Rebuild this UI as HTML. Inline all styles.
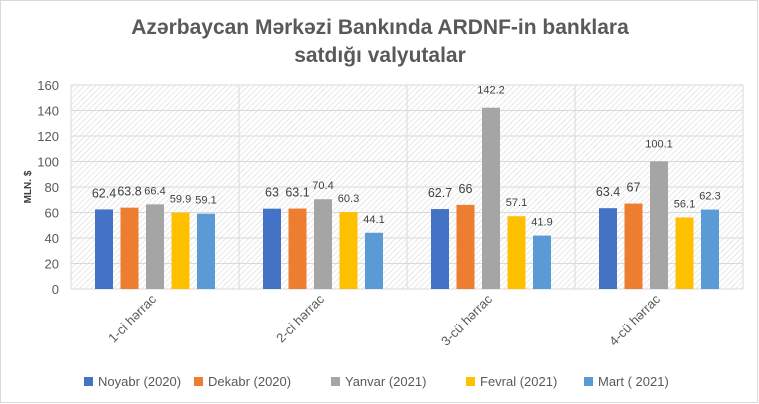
<!DOCTYPE html>
<html><head><meta charset="utf-8"><style>
body{margin:0;background:#fff;}
svg{display:block;font-family:"Liberation Sans",sans-serif;}
</style></head><body>
<svg width="759" height="404" viewBox="0 0 759 404">
<defs>
<pattern id="hatch" width="4" height="4" patternUnits="userSpaceOnUse" patternTransform="rotate(45)">
<rect width="4" height="4" fill="#fff"/><line x1="0" y1="0" x2="0" y2="4" stroke="#d9d9d9" stroke-width="1.2"/>
</pattern>
</defs>
<rect x="0.5" y="0.5" width="757" height="402" fill="#fff" stroke="#d9d9d9"/>
<text x="380" y="34" text-anchor="middle" font-size="21" font-weight="bold" fill="#595959">Azərbaycan Mərkəzi Bankında ARDNF-in banklara</text>
<text x="380" y="62" text-anchor="middle" font-size="21" font-weight="bold" fill="#595959">satdığı valyutalar</text>
<rect x="71" y="85" width="672" height="204" fill="url(#hatch)"/>
<g id="grid"></g><g id="bars"></g><g id="axes"></g>
<text transform="translate(31,187) rotate(-90)" text-anchor="middle" font-size="10" font-weight="bold" fill="#404040">MLN. $</text>
<g id="legend"></g>
</svg>
<script>
const categories=["1-ci hərrac","2-ci hərrac","3-cü hərrac","4-cü hərrac"];
const seriesNames=["Noyabr (2020)","Dekabr (2020)","Yanvar (2021)","Fevral (2021)","Mart ( 2021)"];
const noyabr=[62.4,63,62.7,63.4];
const dekabr=[63.8,63.1,66,67];
const yanvar=[66.4,70.4,142.2,100.1];
const fevral=[59.9,60.3,57.1,56.1];
const mart=[59.1,44.1,41.9,62.3];
const yTicks=[0,20,40,60,80,100,120,140,160];
const series=[noyabr,dekabr,yanvar,fevral,mart];
const colors=["#4472c4","#ed7d31","#a5a5a5","#ffc000","#5b9bd5"];
const NS="http://www.w3.org/2000/svg";
const L=71,R=743,T=85,B=289,YMAX=160;
const y=v=>B-(v/YMAX)*(B-T);
const gw=(R-L)/categories.length;
const bw=18,pitch=25.5;
const bx=(c,s)=>L+c*gw+(gw-(4*pitch+bw))/2+s*pitch;
function mk(tag,attrs,parent){const e=document.createElementNS(NS,tag);for(const k in attrs)e.setAttribute(k,attrs[k]);document.getElementById(parent).appendChild(e);return e;}
yTicks.forEach(t=>{
 const l=mk("line",{x1:L,x2:R,y1:y(t),y2:y(t),stroke:"#d9d9d9","stroke-width":1},"grid");
 
 
 const tx=mk("text",{x:L-12,y:y(t)+5,"text-anchor":"end","font-size":13,fill:"#595959"},"axes");
 tx.textContent=t;
 
 
});
for(let c=0;c<=categories.length;c++){
 const l=mk("line",{x1:L+c*gw,x2:L+c*gw,y1:T,y2:B,stroke:"#d9d9d9","stroke-width":1},"grid");
 
 
}
categories.forEach((cat,c)=>{
 const cx=L+c*gw+gw/2;
 const tx=mk("text",{x:cx+2,y:300,"text-anchor":"end","font-size":13,fill:"#595959",transform:`rotate(-45 ${cx+2} 300)`},"axes");
 tx.textContent=cat;
 
 
 series.forEach((s,i)=>{
  const v=s[c];
  const r=mk("rect",{x:bx(c,i),y:y(v),width:bw,height:B-y(v),fill:colors[i]},"bars");
  
  
  const lb=mk("text",{x:bx(c,i)+bw/2,y:y(v)-(v>=100?14:(i<2?12:10)),"text-anchor":"middle","font-size":v>=100||i>=2?11:12.5,fill:"#404040"},"bars");
  lb.textContent=v;
  
  
 });
});
const lx=[84,194,331,466,584];
seriesNames.forEach((n,i)=>{
 const r=mk("rect",{x:lx[i],y:377,width:9,height:9,fill:colors[i]},"legend");
 
 
 const t=mk("text",{x:lx[i]+14,y:386,"font-size":13,fill:"#595959"},"legend");
 t.textContent=n;
 
 
});
</script>
</body></html>
